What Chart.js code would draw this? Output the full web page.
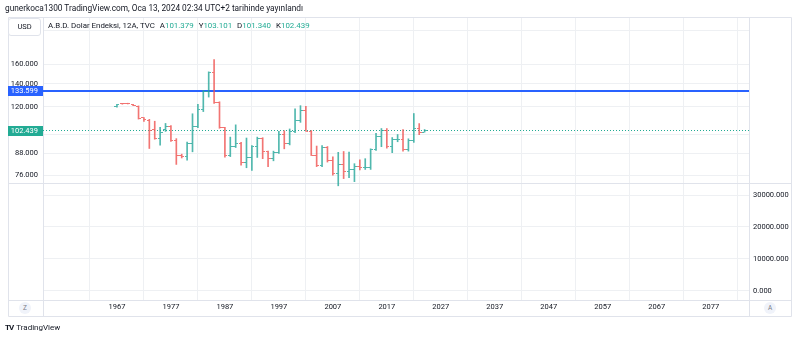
<!DOCTYPE html>
<html lang="tr">
<head>
<meta charset="utf-8">
<title>A.B.D. Dolar Endeksi, 12A</title>
<script src="https://cdn.jsdelivr.net/npm/chart.js@4.4.1/dist/chart.umd.min.js"></script>
<style>
  html, body { margin: 0; padding: 0; background: #fff; }
  body { width: 800px; height: 340px; position: relative; overflow: hidden;
         font-family: Roboto, "Noto Sans", sans-serif; color: #131722; }
  #chart { position: absolute; left: 0; top: 0; }
  .txt { position: absolute; white-space: nowrap; font-size: 8.3px; line-height: 10px; }
  #published { left: 5px; top: 3px; }
  #usd { position: absolute; left: 8px; top: 18px; width: 33px; height: 18px; box-sizing: border-box;
         border: 1px solid #e0e3eb; border-radius: 3px; background: #fff;
         font-size: 7.5px; line-height: 16px; text-align: center; }
  #legend { left: 48px; top: 21px; font-size: 7.9px; }
  #legend .k { margin-left: 5px; }
  #legend .v { color: #22ab94; }
  .btn { position: absolute; width: 12px; height: 12px; border-radius: 6px; background: #f0f3fa;
         font-size: 6.5px; line-height: 12px; text-align: center; color: #787b86; }
  #logo { left: 5px; top: 323px; font-size: 8px; }
  #logo b { font-size: 8px; letter-spacing: -1px; margin-right: 3px; }
</style>
</head>
<body>
<canvas id="chart" width="800" height="340"></canvas>
<div class="txt" id="published">gunerkoca1300 TradingView.com, Oca 13, 2024 02:34 UTC+2 tarihinde yayınlandı</div>
<div id="usd">USD</div>
<div class="txt" id="legend"></div>
<div class="btn" style="left:19px; top:302px;">Z</div>
<div class="btn" style="left:764px; top:302px;">A</div>
<div class="txt" id="logo"><b>TV</b>TradingView</div>
<script>
// yearly bars, US dollar index (TVC)
const years = [1967, 1968, 1969, 1970, 1971, 1972, 1973, 1974, 1975, 1976,
  1977, 1978, 1979, 1980, 1981, 1982, 1983, 1984, 1985, 1986,
  1987, 1988, 1989, 1990, 1991, 1992, 1993, 1994, 1995, 1996,
  1997, 1998, 1999, 2000, 2001, 2002, 2003, 2004, 2005, 2006,
  2007, 2008, 2009, 2010, 2011, 2012, 2013, 2014, 2015, 2016,
  2017, 2018, 2019, 2020, 2021, 2022, 2023, 2024];
const opens = [120.0, 122.6, 122.8, 121.9, 120.6, 111.4, 109.9, 103.0, 97.2, 102.8,
  105.2, 95.6, 86.8, 86.0, 93.6, 105.3, 118.0, 133.3, 151.5, 123.4,
  104.4, 86.6, 92.3, 93.8, 82.6, 85.6, 91.9, 97.2, 88.7, 84.8,
  88.2, 99.6, 94.2, 101.9, 109.6, 116.8, 102.0, 86.9, 81.2, 91.2,
  83.7, 76.7, 81.4, 77.9, 79.0, 80.2, 79.8, 80.0, 90.3, 98.7,
  102.2, 92.1, 96.2, 96.4, 89.9, 95.7, 103.5, 101.379];
const highs = [122.0, 122.9, 123.0, 122.0, 120.8, 111.8, 110.4, 109.0, 104.6, 107.4,
  105.8, 97.0, 87.4, 94.8, 114.6, 122.0, 134.0, 151.8, 164.7, 124.2,
  104.6, 98.0, 106.4, 94.6, 97.4, 92.6, 98.0, 97.6, 89.2, 89.2,
  101.8, 102.3, 103.5, 118.5, 121.0, 120.5, 102.4, 92.3, 92.6, 92.0,
  85.8, 88.5, 89.0, 88.6, 82.0, 84.1, 84.8, 90.6, 100.5, 103.8,
  103.8, 97.7, 99.7, 103.0, 96.9, 114.8, 107.3, 103.101];
const lows = [119.8, 122.2, 122.4, 121.0, 110.6, 108.8, 90.8, 96.6, 92.9, 101.8,
  95.2, 81.6, 85.2, 84.0, 88.8, 104.4, 116.3, 128.2, 122.8, 104.0,
  85.6, 86.0, 91.4, 81.2, 79.8, 78.4, 85.5, 84.8, 80.4, 83.6,
  87.9, 90.6, 93.0, 100.9, 108.2, 101.9, 86.6, 80.4, 80.4, 82.9,
  75.9, 70.7, 74.2, 74.6, 72.7, 78.6, 78.9, 78.9, 89.6, 91.9,
  91.0, 88.3, 95.0, 89.2, 89.2, 94.6, 99.6, 101.340];
const closes = [121.8, 122.4, 122.5, 121.2, 111.2, 110.0, 102.4, 97.2, 101.4, 105.4,
  95.8, 86.4, 86.0, 93.6, 105.3, 118.0, 133.3, 151.5, 123.4, 104.4,
  86.6, 92.3, 93.8, 82.4, 85.6, 91.9, 97.2, 88.7, 84.8, 88.2,
  99.6, 94.2, 101.9, 109.6, 116.8, 102.0, 86.9, 81.2, 91.2, 83.7,
  76.7, 81.4, 77.9, 79.0, 80.2, 79.8, 80.0, 90.3, 98.7, 102.2,
  92.1, 96.2, 96.4, 89.9, 95.7, 103.5, 101.33, 102.439];

// axis ticks
const priceTicks = [200, 160, 140, 120, 100, 88, 76];
const volumeTicks = [0, 10000, 20000, 30000];
const yearTicks = [1967, 1977, 1987, 1997, 2007, 2017, 2027, 2037, 2047, 2057, 2067, 2077];

// horizontal level drawn on the chart
const alertLevel = 133.599;

// visible ranges
const xMin = 1953.3, xMax = 2084.1;
const priceMin = 32.87, priceMax = 219.3;
const paneFloor = 72.0;            // bottom of the price pane
const volumeMin = -2915, volumeMax = 85800;

const UP = 'rgba(38,166,154,0.8)', DOWN = 'rgba(239,83,80,0.8)';
const GRID = '#eef0f3', LINE = '#e0e3eb', TEXT = '#131722';
const FONT = { family: 'Roboto, "Noto Sans", sans-serif', size: 7.5 };

const last = years.length - 1;
const isUp = i => closes[i] >= opens[i];

// legend line: name + OHLC of the latest bar
const fmt = v => v.toFixed(3);
const item = (key, v) => '<span class="k">' + key + '</span><span class="v">' + fmt(v) + '</span>';
document.getElementById('legend').innerHTML =
  'A.B.D. Dolar Endeksi, 12A, TVC' +
  item('A', opens[last]) + item('Y', highs[last]) +
  item('D', lows[last]) + item('K', closes[last]);

// little open/close ticks used as point styles
function tickImage(color, left) {
  const c = document.createElement('canvas');
  c.width = 5; c.height = 1;
  const g = c.getContext('2d');
  g.fillStyle = color;
  g.fillRect(left ? 0 : 3, 0, 2, 1);
  return c;
}
const openTick = { up: tickImage(UP, true), down: tickImage(DOWN, true) };
const closeTick = { up: tickImage(UP, false), down: tickImage(DOWN, false) };

// panel borders and price labels on the left axis
const chrome = {
  id: 'chrome',
  beforeDatasetsDraw(chart) {
    const { ctx, chartArea: a } = chart;
    const split = Math.round(chart.scales.y.getPixelForValue(paneFloor)) + 0.5;
    const l = Math.round(a.left) + 0.5, r = Math.round(a.right) + 0.5, b = Math.round(a.bottom) + 0.5;
    ctx.save();
    ctx.strokeStyle = LINE;
    ctx.lineWidth = 1;
    ctx.beginPath();
    ctx.rect(8.5, 17.5, 783, 299);
    ctx.moveTo(l, 17); ctx.lineTo(l, 317);
    ctx.moveTo(r, 17); ctx.lineTo(r, 317);
    ctx.moveTo(8, b); ctx.lineTo(792, b);
    ctx.moveTo(8, split); ctx.lineTo(792, split);
    ctx.stroke();
    ctx.restore();
  },
  afterDraw(chart) {
    const { ctx, chartArea: a } = chart;
    const tags = [
      { value: alertLevel, color: '#2962ff' },
      { value: closes[last], color: '#22ab94' }
    ];
    ctx.save();
    ctx.font = FONT.size + 'px ' + FONT.family;
    ctx.textAlign = 'right';
    ctx.textBaseline = 'middle';
    tags.forEach(t => {
      const y = chart.scales.y.getPixelForValue(t.value);
      ctx.fillStyle = t.color;
      ctx.fillRect(8, Math.round(y) - 5, a.left - 8, 10);
      ctx.fillStyle = '#fff';
      ctx.fillText(fmt(t.value), a.left - 5, y + 0.5);
    });
    ctx.restore();
  }
};

new Chart(document.getElementById('chart'), {
  type: 'bar',
  data: {
    datasets: [
      {
        label: 'range',
        data: years.map((yr, i) => ({ x: yr, y: [lows[i], highs[i]] })),
        backgroundColor: years.map((_, i) => isUp(i) ? UP : DOWN),
        barThickness: 1,
        borderWidth: 0,
        yAxisID: 'y'
      },
      {
        type: 'line',
        label: 'open',
        data: years.map((yr, i) => ({ x: yr, y: opens[i] })),
        showLine: false,
        pointRadius: 2,
        pointStyle: c => isUp(c.dataIndex) ? openTick.up : openTick.down,
        yAxisID: 'y'
      },
      {
        type: 'line',
        label: 'close',
        data: years.map((yr, i) => ({ x: yr, y: closes[i] })),
        showLine: false,
        pointRadius: 2,
        pointStyle: c => isUp(c.dataIndex) ? closeTick.up : closeTick.down,
        yAxisID: 'y'
      },
      {
        type: 'line',
        label: 'level',
        data: [{ x: xMin, y: alertLevel }, { x: xMax, y: alertLevel }],
        borderColor: '#2962ff',
        borderWidth: 2,
        pointRadius: 0,
        yAxisID: 'y'
      },
      {
        type: 'line',
        label: 'last',
        data: [{ x: xMin, y: closes[last] }, { x: xMax, y: closes[last] }],
        borderColor: '#22ab94',
        borderWidth: 1,
        borderDash: [1, 2],
        pointRadius: 0,
        yAxisID: 'y'
      }
    ]
  },
  options: {
    responsive: false,
    animation: false,
    layout: { padding: { left: 8, top: 17, right: 8, bottom: 23 } },
    plugins: { legend: { display: false }, tooltip: { enabled: false } },
    scales: {
      x: {
        type: 'linear',
        min: xMin, max: xMax,
        offset: false,
        afterBuildTicks: s => { s.ticks = yearTicks.map(v => ({ value: v })); },
        afterFit: s => { s.height = 17; },
        ticks: { autoSkip: false, maxRotation: 0, padding: 3, color: TEXT, font: FONT, callback: v => String(v) },
        grid: { color: GRID, drawTicks: false },
        border: { display: false }
      },
      y: {
        type: 'logarithmic',
        position: 'left',
        min: priceMin, max: priceMax,
        afterBuildTicks: s => { s.ticks = priceTicks.map(v => ({ value: v })); },
        afterFit: s => { s.width = 35; },
        ticks: { autoSkip: false, padding: 5, color: TEXT, font: FONT, callback: v => fmt(v) },
        grid: { color: GRID, drawTicks: false },
        border: { display: false }
      },
      vol: {
        type: 'linear',
        position: 'right',
        min: volumeMin, max: volumeMax,
        afterBuildTicks: s => { s.ticks = volumeTicks.map(v => ({ value: v })); },
        afterFit: s => { s.width = 43; },
        ticks: { autoSkip: false, padding: 4, color: TEXT, font: FONT, callback: v => fmt(v) },
        grid: { color: GRID, drawTicks: false },
        border: { display: false }
      }
    }
  },
  plugins: [chrome]
});
</script>
</body>
</html>
